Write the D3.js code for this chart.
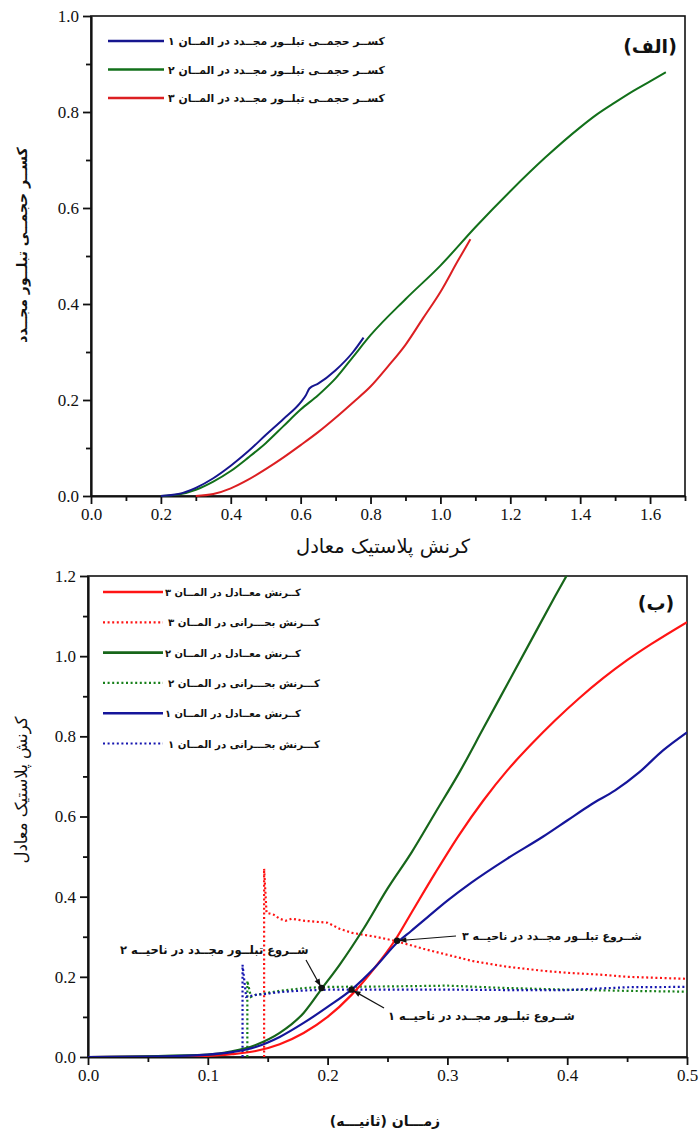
<!DOCTYPE html>
<html><head><meta charset="utf-8">
<script src="https://cdn.jsdelivr.net/npm/d3@7"></script>
<style>
body{margin:0;background:#fff}
svg{display:block}
.fa{font-family:"DejaVu Sans",sans-serif}
</style>
</head><body>
<svg id="chart" width="699" height="1135"></svg>
<script>
// ---------- panel (الف): recrystallized volume fraction vs. equivalent plastic strain ----------
const fracElem1 = [[0.2,0],[0.25,0.004],[0.3,0.017],[0.35,0.037],[0.4,0.063],[0.45,0.093],[0.5,0.127],[0.55,0.16],[0.6,0.195],[0.615,0.21],[0.625,0.224],[0.65,0.234],[0.7,0.262],[0.75,0.3],[0.78,0.33]];
const fracElem2 = [[0.2,0],[0.25,0.003],[0.3,0.013],[0.35,0.03],[0.4,0.052],[0.45,0.08],[0.5,0.11],[0.55,0.145],[0.6,0.18],[0.65,0.21],[0.7,0.245],[0.75,0.29],[0.8,0.335],[0.9,0.41],[1.0,0.48],[1.1,0.56],[1.2,0.635],[1.3,0.705],[1.4,0.768],[1.45,0.796],[1.5,0.82],[1.55,0.843],[1.6,0.864],[1.645,0.883]];
const fracElem3 = [[0.3,0],[0.35,0.004],[0.4,0.016],[0.45,0.034],[0.5,0.056],[0.55,0.08],[0.6,0.106],[0.65,0.133],[0.7,0.163],[0.75,0.195],[0.8,0.228],[0.85,0.27],[0.9,0.315],[0.95,0.37],[1.0,0.425],[1.05,0.49],[1.086,0.535]];
const topXTicks = [0,0.2,0.4,0.6,0.8,1.0,1.2,1.4,1.6];
const topYTicks = [0,0.2,0.4,0.6,0.8,1.0];
const topLegend = ["کســر حجمــی تبلــور مجــدد در المــان ۱","کســر حجمــی تبلــور مجــدد در المــان ۲","کســر حجمــی تبلــور مجــدد در المــان ۳"];

// ---------- panel (ب): equivalent and critical strain vs. time ----------
const eqStrain3 = [[0,0],[0.1,0.003],[0.12,0.007],[0.14,0.015],[0.16,0.032],[0.18,0.06],[0.2,0.1],[0.22,0.155],[0.24,0.225],[0.256,0.29],[0.27,0.36],[0.29,0.46],[0.31,0.555],[0.33,0.64],[0.35,0.715],[0.37,0.78],[0.39,0.84],[0.41,0.895],[0.43,0.945],[0.45,0.99],[0.47,1.03],[0.5,1.085]];
const eqStrain2 = [[0,0],[0.1,0.006],[0.12,0.014],[0.14,0.03],[0.16,0.06],[0.18,0.11],[0.195,0.17],[0.21,0.23],[0.23,0.32],[0.25,0.42],[0.27,0.51],[0.29,0.61],[0.31,0.71],[0.33,0.82],[0.35,0.93],[0.37,1.04],[0.39,1.15],[0.405,1.23]];
const eqStrain1 = [[0,0],[0.05,0.001],[0.1,0.006],[0.12,0.012],[0.14,0.025],[0.16,0.05],[0.18,0.085],[0.2,0.125],[0.22,0.168],[0.24,0.225],[0.258,0.285],[0.27,0.315],[0.28,0.34],[0.3,0.39],[0.32,0.435],[0.35,0.495],[0.38,0.55],[0.4,0.59],[0.42,0.63],[0.44,0.665],[0.46,0.71],[0.48,0.765],[0.5,0.81]];
const critStrain3 = [[0.147,0],[0.147,0.47],[0.149,0.36],[0.155,0.355],[0.16,0.345],[0.165,0.34],[0.17,0.345],[0.18,0.34],[0.2,0.335],[0.21,0.32],[0.22,0.31],[0.24,0.3],[0.256,0.29],[0.28,0.27],[0.3,0.255],[0.32,0.24],[0.35,0.225],[0.38,0.215],[0.4,0.21],[0.43,0.205],[0.45,0.2],[0.5,0.195]];
const critStrain2 = [[0.133,0],[0.133,0.19],[0.136,0.15],[0.14,0.155],[0.15,0.16],[0.16,0.165],[0.18,0.172],[0.2,0.175],[0.25,0.176],[0.3,0.178],[0.35,0.172],[0.4,0.168],[0.45,0.165],[0.5,0.163]];
const critStrain1 = [[0.129,0],[0.129,0.23],[0.132,0.15],[0.14,0.155],[0.15,0.158],[0.16,0.162],[0.18,0.166],[0.2,0.168],[0.25,0.168],[0.3,0.168],[0.35,0.167],[0.4,0.167],[0.42,0.17],[0.45,0.174],[0.5,0.175]];
const botXTicks = [0,0.1,0.2,0.3,0.4,0.5];
const botYTicks = [0,0.2,0.4,0.6,0.8,1.0,1.2];
const botLegend = ["کــرنش معــادل در المــان ۳","کـــرنش بحـــرانی در المــان ۳","کــرنش معــادل در المــان ۲","کـــرنش بحـــرانی در المــان ۲","کــرنش معــادل در المــان ۱","کـــرنش بحـــرانی در المــان ۱"];
// onset of recrystallization in each zone: [time, strain, label]
const onsetPoints = [[0.22,0.168,"شــروع تبلــور مجــدد در ناحیــه ۱"],[0.195,0.172,"شــروع تبلــور مجــدد در ناحیــه ۲"],[0.258,0.29,"شــروع تبلــور مجــدد در ناحیــه ۳"]];

const svg = d3.select("#chart");
const defs = svg.append("defs");
defs.append("marker").attr("id","arrow").attr("viewBox","0 0 10 10").attr("refX",9).attr("refY",5)
  .attr("markerWidth",10).attr("markerHeight",7).attr("orient","auto-start-reverse")
  .attr("markerUnits","userSpaceOnUse")
  .append("path").attr("d","M0,1 L10,5 L0,9 Z").attr("fill","#111");

// Persian label whose visual left end sits at x; shrinks the font until it fits maxW
function faLabel(g, x, y, text, size, maxW, weight){
  const t = g.append("text").attr("class","fa").attr("x",x).attr("y",y)
    .attr("direction","rtl").attr("text-anchor","end")
    .attr("font-size",size).attr("font-weight",weight||"bold").attr("fill","#111").text(text);
  const w = t.node().getComputedTextLength();
  if(maxW && w > maxW) t.attr("font-size", size*maxW/w);
  return t;
}

function drawFrame(g, x, y, xMajor, xMinor, yMajor, yMinor){
  const [x0,x1] = x.range(), [y0,y1] = y.range();
  g.append("rect").attr("x",x0).attr("y",y1).attr("width",x1-x0).attr("height",y0-y1)
    .attr("fill","none").attr("stroke","#111").attr("stroke-width",1.6);
  g.append("g").attr("class","ax").attr("transform",`translate(0,${y0})`)
    .call(d3.axisBottom(x).tickValues(xMajor).tickSize(8).tickSizeOuter(0).tickPadding(4).tickFormat(d3.format(".1f")));
  g.append("g").attr("transform",`translate(0,${y0})`)
    .call(d3.axisBottom(x).tickValues(xMinor).tickSize(5).tickSizeOuter(0).tickFormat(""))
    .select(".domain").remove();
  g.append("g").attr("class","ax").attr("transform",`translate(${x0},0)`)
    .call(d3.axisLeft(y).tickValues(yMajor).tickSize(8).tickSizeOuter(0).tickPadding(4).tickFormat(d3.format(".1f")));
  g.append("g").attr("transform",`translate(${x0},0)`)
    .call(d3.axisLeft(y).tickValues(yMinor).tickSize(5).tickSizeOuter(0).tickFormat(""))
    .select(".domain").remove();
  g.selectAll(".domain").attr("stroke","#111").attr("stroke-width",2.2);
  g.selectAll(".tick line").attr("stroke","#111").attr("stroke-width",1.8);
  g.selectAll(".ax .tick text")
    .style("font-family","'Liberation Serif','Times New Roman',serif")
    .style("font-size","17px").style("fill","#111");
}

// ---------- top panel ----------
const xT = d3.scaleLinear().domain([0,1.7]).range([91,685]);
const yT = d3.scaleLinear().domain([0,1.0]).range([496,16]);
const gT = svg.append("g");
drawFrame(gT, xT, yT, topXTicks, d3.range(0.1,1.71,0.2), topYTicks, d3.range(0.1,1.0,0.2));

const lineT = d3.line().x(d=>xT(d[0])).y(d=>yT(d[1])).curve(d3.curveMonotoneX);
const topSeries = [[fracElem1,"#16168f"],[fracElem2,"#12701a"],[fracElem3,"#dc1f22"]];
// element 3, then 2, then 1 so the blue curve sits on top
[2,1,0].forEach(i=>{
  gT.append("path").datum(topSeries[i][0]).attr("d",lineT)
    .attr("fill","none").attr("stroke",topSeries[i][1]).attr("stroke-width",2);
});

topLegend.forEach((t,i)=>{
  const yy = 41 + i*28.5;
  gT.append("line").attr("x1",108).attr("x2",164).attr("y1",yy).attr("y2",yy)
    .attr("stroke",topSeries[i][1]).attr("stroke-width",2.4);
  faLabel(gT, 168, yy+4, t, 11.5, 217);
});
gT.append("text").attr("class","fa").attr("x",650).attr("y",53).attr("direction","rtl")
  .attr("text-anchor","middle").attr("font-size",19).attr("font-weight","bold").attr("fill","#111").text("(الف)");
gT.append("text").attr("class","fa").attr("x",383).attr("y",553).attr("direction","rtl")
  .attr("text-anchor","middle").attr("font-size",19.5).attr("fill","#111").text("کرنش پلاستیک معادل");
gT.append("text").attr("class","fa").attr("transform","translate(27,245) rotate(-90)").attr("direction","rtl")
  .attr("text-anchor","middle").attr("font-size",14).attr("font-weight","bold").attr("fill","#111").text("کســر حجمــی تبلــور مجــدد");

// ---------- bottom panel ----------
const xB = d3.scaleLinear().domain([0,0.5]).range([88,687]);
const yB = d3.scaleLinear().domain([0,1.2]).range([1057,576]);
const gB = svg.append("g");
drawFrame(gB, xB, yB, botXTicks, d3.range(0.05,0.5,0.1), botYTicks, d3.range(0.1,1.2,0.2));

defs.append("clipPath").attr("id","plotB").append("rect")
  .attr("x",88).attr("y",576).attr("width",599).attr("height",481);
const smoothB = d3.line().x(d=>xB(d[0])).y(d=>yB(d[1])).curve(d3.curveMonotoneX);
const dottedB = d3.line().x(d=>xB(d[0])).y(d=>yB(d[1]));
const plotB = gB.append("g").attr("clip-path","url(#plotB)");

const botSeries = [
  [eqStrain3,"#ff1414",false],[critStrain3,"#ff1414",true],
  [eqStrain2,"#17661a",false],[critStrain2,"#17801a",true],
  [eqStrain1,"#15159a",false],[critStrain1,"#1515b0",true]
];
// dotted critical-strain curves first, smooth equivalent-strain curves on top
[1,3,5,0,2,4].forEach(i=>{
  const [data,color,dotted] = botSeries[i];
  const p = plotB.append("path").datum(data)
    .attr("d", dotted ? dottedB : smoothB)
    .attr("fill","none").attr("stroke",color).attr("stroke-width",2.2);
  if(dotted) p.attr("stroke-dasharray","2,2.6");
});

botLegend.forEach((t,i)=>{
  const yy = 592 + i*30.3;
  const [ ,color,dotted] = botSeries[i];
  const l = gB.append("line").attr("x1",103).attr("x2",163).attr("y1",yy).attr("y2",yy)
    .attr("stroke",color).attr("stroke-width",dotted?2.2:2.6);
  if(dotted) l.attr("stroke-dasharray","2,2.6");
  faLabel(gB, dotted?168:165, yy+4, t, 11.5, dotted?152:136);
});
gB.append("text").attr("class","fa").attr("x",656).attr("y",610).attr("direction","rtl")
  .attr("text-anchor","middle").attr("font-size",19).attr("font-weight","bold").attr("fill","#111").text("(ب)");
gB.append("text").attr("class","fa").attr("x",385).attr("y",1126).attr("direction","rtl")
  .attr("text-anchor","middle").attr("font-size",14).attr("font-weight","bold").attr("fill","#111").text("زمـــان (ثانیـــه)");
gB.append("text").attr("class","fa").attr("transform","translate(27,790) rotate(-90)").attr("direction","rtl")
  .attr("text-anchor","middle").attr("font-size",16.5).attr("fill","#111").text("کرنش پلاستیک معادل");

// annotation arrows: [label left x, label y, max label width, arrow start x, arrow start y]
const notes = [[388,1020,187,384,1008],[120,954,190,306,960],[462,940,180,456,936]];
onsetPoints.forEach((p,i)=>{
  const [lx,ly,lw,sx,sy] = notes[i];
  const px = xB(p[0]), py = yB(p[1]);
  const ang = Math.atan2(py-sy, px-sx);
  gB.append("line").attr("x1",sx).attr("y1",sy)
    .attr("x2",px-Math.cos(ang)*3).attr("y2",py-Math.sin(ang)*3)
    .attr("stroke","#111").attr("stroke-width",1.2).attr("marker-end","url(#arrow)");
  gB.append("circle").attr("cx",px).attr("cy",py).attr("r",3.2).attr("fill","#111");
  faLabel(gB, lx, ly, p[2], 11.5, lw);
});
</script>
</body></html>
